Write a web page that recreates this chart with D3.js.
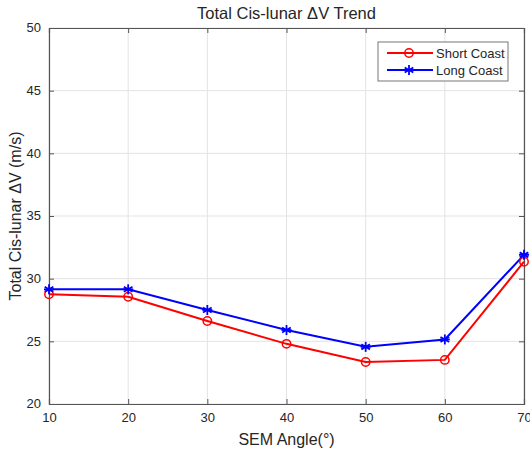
<!DOCTYPE html>
<html>
<head>
<meta charset="utf-8">
<script src="https://cdn.jsdelivr.net/npm/d3@7"></script>
<style>
  body { margin: 0; background: #fff; }
  svg text { font-family: "Liberation Sans", Arial, sans-serif; fill: #262626; }
</style>
</head>
<body>
<svg id="chart" width="530" height="452"></svg>
<script>
// chart data
const angles = [10, 20, 30, 40, 50, 60, 70];
const shortCoast = [28.75, 28.56, 26.62, 24.8, 23.35, 23.52, 31.35];
const longCoast = [29.15, 29.15, 27.5, 25.9, 24.56, 25.15, 31.9];
const xTicks = [10, 20, 30, 40, 50, 60, 70];
const yTicks = [20, 25, 30, 35, 40, 45, 50];
const seriesNames = ['Short Coast', 'Long Coast'];

const svg = d3.select('#chart');
const margin = { left: 49, top: 28, right: 6, bottom: 48 };
const W = 530, H = 452;
const axisColor = '#555';

const x = d3.scaleLinear().domain([10, 70]).range([margin.left, W - margin.right]);
const y = d3.scaleLinear().domain([20, 50]).range([H - margin.bottom, margin.top]);

// grid
const grid = svg.append('g').attr('class', 'grid');
grid.selectAll('.vg').data(xTicks).enter().append('line')
    .attr('x1', d => x(d)).attr('x2', d => x(d))
    .attr('y1', y(20)).attr('y2', y(50))
    .attr('stroke', '#e3e3e3').attr('stroke-width', 1);
grid.selectAll('.hg').data(yTicks).enter().append('line')
    .attr('y1', d => y(d)).attr('y2', d => y(d))
    .attr('x1', x(10)).attr('x2', x(70))
    .attr('stroke', '#e3e3e3').attr('stroke-width', 1);

// axes (ticks inward, box on)
const xAxis = svg.append('g').attr('transform', `translate(0,${y(20)})`)
    .call(d3.axisBottom(x).tickValues(xTicks).tickSize(-5).tickPadding(9));
const yAxis = svg.append('g').attr('transform', `translate(${x(10)},0)`)
    .call(d3.axisLeft(y).tickValues(yTicks).tickSize(-5).tickPadding(8));
const xTop = svg.append('g').attr('transform', `translate(0,${y(50)})`)
    .call(d3.axisTop(x).tickValues(xTicks).tickSize(-5).tickFormat(''));
const yRight = svg.append('g').attr('transform', `translate(${x(70)},0)`)
    .call(d3.axisRight(y).tickValues(yTicks).tickSize(-5).tickFormat(''));

[xAxis, yAxis, xTop, yRight].forEach(a => {
    a.selectAll('path').attr('stroke', axisColor).attr('stroke-width', 1.2);
    a.selectAll('line').attr('stroke', axisColor);
    a.selectAll('text').style('font-size', '13px').attr('fill', '#4a4a4a');
});
yAxis.selectAll('text').attr('dy', '0.3em');

// lines
const line = d3.line().x((d, i) => x(angles[i])).y(d => y(d));

svg.append('path').datum(shortCoast)
    .attr('d', line).attr('fill', 'none')
    .attr('stroke', '#ff0000').attr('stroke-width', 2);
svg.append('path').datum(longCoast)
    .attr('d', line).attr('fill', 'none')
    .attr('stroke', '#0000ff').attr('stroke-width', 2);

// markers
function circleMarker(g, cx, cy) {
    g.append('circle').attr('cx', cx).attr('cy', cy).attr('r', 4.2)
        .attr('fill', 'none').attr('stroke', '#ff0000').attr('stroke-width', 1.5);
}
function starMarker(g, cx, cy) {
    const r = 5;
    [0, 60, 120].forEach(a => {
        const rad = a * Math.PI / 180;
        g.append('line')
            .attr('x1', cx - r * Math.sin(rad)).attr('y1', cy - r * Math.cos(rad))
            .attr('x2', cx + r * Math.sin(rad)).attr('y2', cy + r * Math.cos(rad))
            .attr('stroke', '#0000ff').attr('stroke-width', 1.8);
    });
    g.append('line').attr('x1', cx - r).attr('x2', cx + r).attr('y1', cy).attr('y2', cy)
        .attr('stroke', '#0000ff').attr('stroke-width', 1.8);
}
const mk = svg.append('g');
shortCoast.forEach((v, i) => circleMarker(mk, x(angles[i]), y(v)));
longCoast.forEach((v, i) => starMarker(mk, x(angles[i]), y(v)));

// title and labels
svg.append('text').attr('x', (x(10) + x(70)) / 2).attr('y', 19)
    .attr('text-anchor', 'middle').style('font-size', '16.5px')
    .text('Total Cis-lunar \u0394V Trend');
svg.append('text').attr('x', (x(10) + x(70)) / 2).attr('y', 445)
    .attr('text-anchor', 'middle').style('font-size', '16px')
    .text('SEM Angle(\u00b0)');
svg.append('text')
    .attr('transform', `translate(21,${(y(20) + y(50)) / 2}) rotate(-90)`)
    .attr('text-anchor', 'middle').style('font-size', '16px')
    .text('Total Cis-lunar \u0394V (m/s)');

// legend
const lg = svg.append('g').attr('transform', 'translate(378,42)');
lg.append('rect').attr('width', 130).attr('height', 39)
    .attr('fill', '#fff').attr('stroke', '#777').attr('stroke-width', 1);
seriesNames.forEach((name, i) => {
    const ly = 11 + i * 17;
    lg.append('line').attr('x1', 9).attr('x2', 55).attr('y1', ly).attr('y2', ly)
        .attr('stroke', i === 0 ? '#ff0000' : '#0000ff').attr('stroke-width', 2);
    if (i === 0) circleMarker(lg, 31, ly); else starMarker(lg, 31, ly);
    lg.append('text').attr('x', 58).attr('y', ly + 4.5)
        .style('font-size', '13px').text(name);
});
</script>
</body>
</html>
